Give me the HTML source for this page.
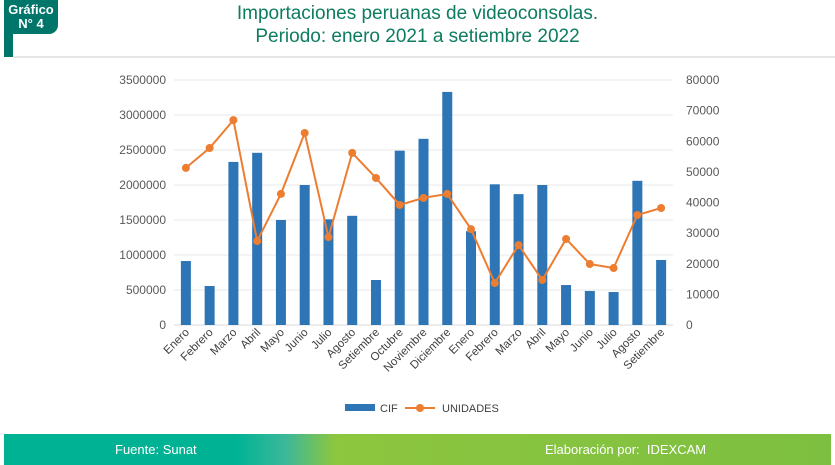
<!DOCTYPE html>
<html><head><meta charset="utf-8"><style>
body{margin:0;width:835px;height:465px;background:#fff;font-family:"Liberation Sans",sans-serif;position:relative;overflow:hidden}
.abs{position:absolute}
</style></head><body>
<div class="abs" style="left:4px;top:0;width:9px;height:57px;background:#00766a"></div>
<div class="abs" style="left:4px;top:0;width:54px;height:34px;background:#00766a;border-bottom-right-radius:9px;color:#fff;font-weight:bold;font-size:13px;line-height:14px;text-align:center;padding-top:3px;box-sizing:border-box">Gráfico<br>N° 4</div>
<div class="abs" style="left:13px;top:56px;width:822px;height:2px;background:#e6e6e6"></div>
<div class="abs" style="left:150px;top:2px;width:535px;text-align:center;color:#0e7c5f;font-size:19px;line-height:23px">Importaciones peruanas de videoconsolas.<br>Periodo: enero 2021 a setiembre 2022</div>
<svg class="abs" style="left:0;top:0" width="835" height="430" id="chart"></svg>
<div class="abs" style="left:4px;top:434px;width:827px;height:31px;background:linear-gradient(90deg,#00b294 0%,#00b294 28%,#3bb89a 34%,#8dc63f 40%,#7dbf40 100%);color:#fff;font-size:13px;line-height:31px">
<span class="abs" style="left:111px">Fuente: Sunat</span>
<span class="abs" style="left:541px">Elaboración por:&nbsp; IDEXCAM</span>
</div>
<script>
const categories=["Enero","Febrero","Marzo","Abril","Mayo","Junio","Julio","Agosto","Setiembre","Octubre","Noviembre","Diciembre","Enero","Febrero","Marzo","Abril","Mayo","Junio","Julio","Agosto","Setiembre"];
const cif=[914000,557000,2330000,2460000,1500000,2000000,1510000,1560000,643000,2490000,2660000,3330000,1340000,2010000,1870000,2000000,571000,486000,471000,2060000,929000];
const unidades=[51300,57800,66900,27400,42800,62700,28700,56200,48000,39200,41500,42800,31300,13700,26100,14700,28100,19900,18600,35900,38200];
const leftTicks=[0,500000,1000000,1500000,2000000,2500000,3000000,3500000];
const rightTicks=[0,10000,20000,30000,40000,50000,60000,70000,80000];
const svg=document.getElementById('chart');const NS='http://www.w3.org/2000/svg';
const x0=174,x1=673,yB=325,yT=80;
const step=(x1-x0)/categories.length;
const xc=i=>x0+step*(i+0.5);
const yL=v=>yB-(v/3500000)*(yB-yT);
const yR=v=>yB-(v/80000)*(yB-yT);
function mk(t,a){const e=document.createElementNS(NS,t);for(const k in a)e.setAttribute(k,a[k]);svg.appendChild(e);return e;}
leftTicks.forEach(v=>{const g=mk('line',{x1:x0,x2:x1,y1:yL(v),y2:yL(v),stroke:v===0?'#d9d9d9':'#e8e8e8'});

const t=mk('text',{x:166,y:yL(v)+4,'text-anchor':'end','font-size':12,fill:'#595959'});t.textContent=v;
});
rightTicks.forEach(v=>{const t=mk('text',{x:686,y:yR(v)+4,'font-size':12,fill:'#595959'});t.textContent=v;
});
cif.forEach((v,i)=>{const r=mk('rect',{x:xc(i)-5,y:yL(v),width:10,height:yB-yL(v),fill:'#2e75b6'});
});
mk('polyline',{points:unidades.map((v,i)=>xc(i)+','+yR(v)).join(' '),fill:'none',stroke:'#ed7d31','stroke-width':2});
unidades.forEach((v,i)=>{const c=mk('circle',{cx:xc(i),cy:yR(v),r:4,fill:'#ed7d31'});
});
categories.forEach((c,i)=>{const t=mk('text',{x:xc(i)+4,y:333,'text-anchor':'end','font-size':11.5,fill:'#404040',transform:`rotate(-45 ${xc(i)+4} 333)`});t.textContent=c;
});
let r=mk('rect',{x:345,y:404,width:30,height:7,fill:'#2e75b6'});
let t=mk('text',{x:380,y:412,'font-size':11,fill:'#404040'});t.textContent='CIF';
mk('line',{x1:405,x2:435,y1:408,y2:408,stroke:'#ed7d31','stroke-width':2});
mk('circle',{cx:420,cy:408,r:4,fill:'#ed7d31'});
t=mk('text',{x:442,y:412,'font-size':11,fill:'#404040'});t.textContent='UNIDADES';
</script>
</body></html>
